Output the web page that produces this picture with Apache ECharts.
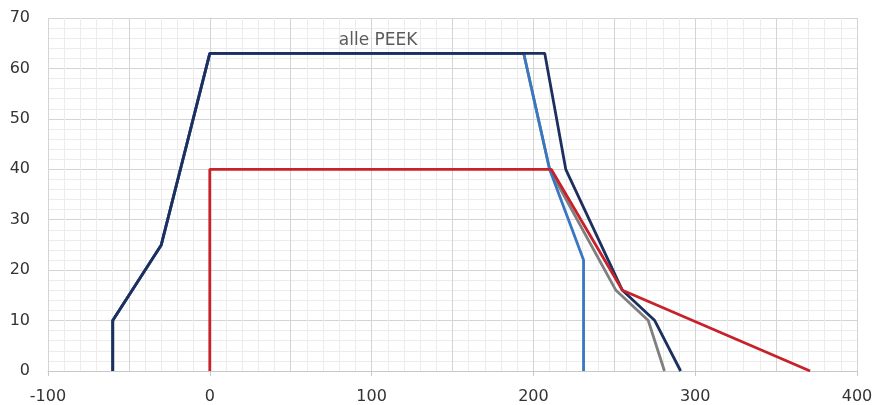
<!DOCTYPE html>
<html><head><meta charset="utf-8">
<script src="https://cdn.jsdelivr.net/npm/echarts@6/dist/echarts.min.js"></script>
<style>html,body{margin:0;padding:0;background:#fff}#c{width:877px;height:405px}</style>
</head><body><div id="c"></div>
<script>
// x tick labels are every 100, y tick labels every 10
const xTicks = [-100, 0, 100, 200, 300, 400];
const yTicks = [0, 10, 20, 30, 40, 50, 60, 70];
const annotation = 'alle PEEK';
const seriesNames = ['grau', 'blau', 'dunkelblau', 'rot'];
const greyPts  = [[-60,0],[-60,10],[-30,25],[0,63],[194,63],[210,40],[251,16],[271,10],[281,0]];
const bluePts  = [[-60,0],[-60,10],[-30,25],[0,63],[194,63],[210,40],[231,22],[231,0]];
const navyPts  = [[-60,0],[-60,10],[-30,25],[0,63],[207,63],[220,40],[255,16],[275,10],[291,0]];
const redPts   = [[0,0],[0,40],[211,40],[255,16],[371,0]];
const annotPos = [104, 65.6];

const colors = ['#7f7f7f', '#3a77c2', '#1c2f5f', '#c7212b'];
const data = [greyPts, bluePts, navyPts, redPts];
const font = 'DejaVu Sans';
const chart = echarts.init(document.getElementById('c'));
const series = data.map((d, i) => ({
  name: seriesNames[i], type: 'line', data: d, symbol: 'none',
  lineStyle: {color: colors[i], width: 2.8}, z: 2 + i, animation: false
}));
series.push({
  type: 'scatter', data: [annotPos], symbolSize: 0, z: 10,
  label: {show: true, formatter: annotation, position: 'inside', color: '#333', fontSize: 17, fontFamily: font},
  animation: false
});
chart.setOption({
  animation: false,
  grid: {left: 48, right: 20, top: 18, bottom: 33},
  xAxis: [{
    type: 'value', min: -100, max: 400, interval: 50,
    axisLine: {show: true, lineStyle: {color: '#c8c8c8', width: 1}},
    axisTick: {show: false},
    axisLabel: {margin: 18, color: '#333', fontSize: 16, fontFamily: font,
      formatter: v => xTicks.includes(v) ? String(v) : ''},
    splitLine: {show: true, lineStyle: {color: '#d4d4d4', width: 1}},
    minorTick: {show: false, splitNumber: 5},
    minorSplitLine: {show: true, lineStyle: {color: '#ececec', width: 1}}
  }, {
    type: 'value', min: -100, max: 400, interval: 100, position: 'bottom',
    axisLine: {show: false}, axisLabel: {show: false}, splitLine: {show: false},
    axisTick: {show: true, inside: false, length: 5, lineStyle: {color: '#c8c8c8'}}
  }],
  yAxis: {
    type: 'value', min: 0, max: 70, interval: 10,
    axisLine: {show: true, lineStyle: {color: '#d4d4d4'}},
    axisTick: {show: false},
    axisLabel: {margin: 18, color: '#333', fontSize: 16, fontFamily: font,
      formatter: v => yTicks.includes(v) ? String(v) : ''},
    splitLine: {show: true, lineStyle: {color: '#d4d4d4', width: 1}},
    minorTick: {show: false, splitNumber: 5},
    minorSplitLine: {show: true, lineStyle: {color: '#ececec', width: 1}}
  },
  series: series
});
</script></body></html>
